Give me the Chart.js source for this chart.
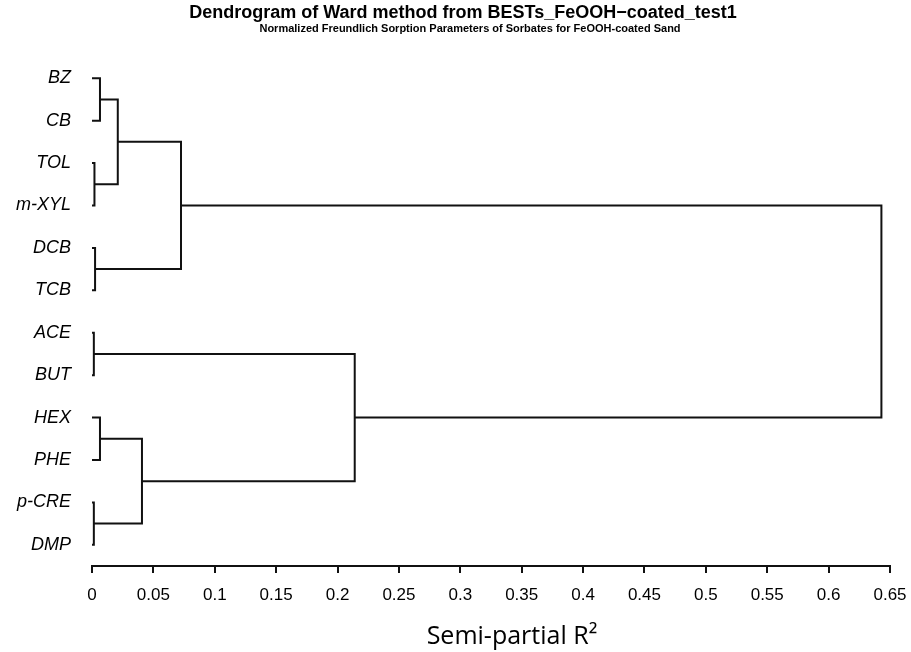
<!DOCTYPE html>
<html><head><meta charset="utf-8">
<script src="https://cdn.jsdelivr.net/npm/chart.js@4.4.0/dist/chart.umd.min.js"></script>
<style>html,body{margin:0;padding:0;background:#fff}#wrap{width:911px;height:652px}</style>
</head><body><div id="wrap"><canvas id="c" width="911" height="652"></canvas></div>
<script>
// Leaves (top to bottom)
const leaves = ['BZ','CB','TOL','m-XYL','DCB','TCB','ACE','BUT','HEX','PHE','p-CRE','DMP'];
// Ward linkage: cluster ids 0..11 are leaves, 12.. are merges in order
const mergeLeft   = [0, 2, 4, 6, 8, 10, 12, 18, 16, 15, 19];
const mergeRight  = [1, 3, 5, 7, 9, 11, 13, 14, 17, 20, 21];
const mergeHeight = [0.0065, 0.002, 0.0025, 0.0015, 0.0065, 0.0015, 0.021, 0.0725, 0.0407, 0.214, 0.643];
const xTicks = [0,0.05,0.1,0.15,0.2,0.25,0.3,0.35,0.4,0.45,0.5,0.55,0.6,0.65];
const titleText = 'Dendrogram of Ward method from BESTs_FeOOH\u2212coated_test1';
const subtitleText = 'Normalized Freundlich Sorption Parameters of Sorbates for FeOOH-coated Sand';
const xAxisTitle = 'Semi-partial R\u00B2';

// node positions derived from tree structure
const nodeY = leaves.map((_, i) => i);
const nodeH = leaves.map(() => 0);
const datasets = [];
mergeLeft.forEach((a, k) => {
  const b = mergeRight[k], h = mergeHeight[k];
  datasets.push({
    data: [{x: nodeH[a], y: nodeY[a]}, {x: h, y: nodeY[a]}, {x: h, y: nodeY[b]}, {x: nodeH[b], y: nodeY[b]}],
    showLine: true, borderColor: '#111', borderWidth: 2, pointRadius: 0, tension: 0, fill: false
  });
  nodeY.push((nodeY[a] + nodeY[b]) / 2);
  nodeH.push(h);
});

Chart.defaults.font.family = '"Liberation Sans", Arial, sans-serif';
Chart.defaults.color = '#000';

const textPlugin = {
  id: 'texts',
  afterDraw(chart) {
    const ctx = chart.ctx;
    ctx.save();
    ctx.fillStyle = '#000';
    ctx.textAlign = 'center';
    ctx.textBaseline = 'middle';
    ctx.font = 'bold 18px "Liberation Sans", Arial, sans-serif';
    ctx.fillText(titleText, 463, 13);
    ctx.font = 'bold 11px "Liberation Sans", Arial, sans-serif';
    ctx.fillText(subtitleText, 470, 29);
    ctx.textBaseline = 'alphabetic';
    ctx.font = '25px "Open Sans", sans-serif';
    ctx.fillText(xAxisTitle, 512, 644);
    ctx.restore();
  }
};

new Chart(document.getElementById('c'), {
  type: 'scatter',
  data: { datasets },
  options: {
    responsive: false,
    animation: false,
    layout: { padding: { left: 0, right: 21, top: 57, bottom: 0 } },
    plugins: {
      legend: { display: false },
      tooltip: { enabled: false },
      title: { display: false },
      subtitle: { display: false }
    },
    scales: {
      x: {
        type: 'linear', min: 0, max: 0.65,
        afterBuildTicks: s => { s.ticks = xTicks.map(v => ({ value: v })); },
        ticks: { callback: v => String(+Number(v).toFixed(2)), font: { size: 17 }, color: '#000', padding: 12, maxRotation: 0, autoSkip: false },
        grid: { drawOnChartArea: false, drawTicks: true, tickLength: 7, color: '#111', lineWidth: 2 },
        border: { display: true, color: '#111', width: 2 },
        afterFit: s => { s.height = 86; s.paddingRight = 0; s.paddingLeft = 0; }
      },
      y: {
        type: 'linear', reverse: true, min: -0.5, max: 11.5,
        afterBuildTicks: s => { s.ticks = leaves.map((_, i) => ({ value: i })); },
        ticks: { callback: v => leaves[v], font: { size: 18, style: 'italic' }, color: '#000', padding: 21, autoSkip: false },
        grid: { display: false, drawTicks: false },
        border: { display: false },
        afterFit: s => { s.width = 92; s.paddingTop = 0; s.paddingBottom = 0; }
      }
    }
  },
  plugins: [textPlugin]
});
</script>
</body></html>
